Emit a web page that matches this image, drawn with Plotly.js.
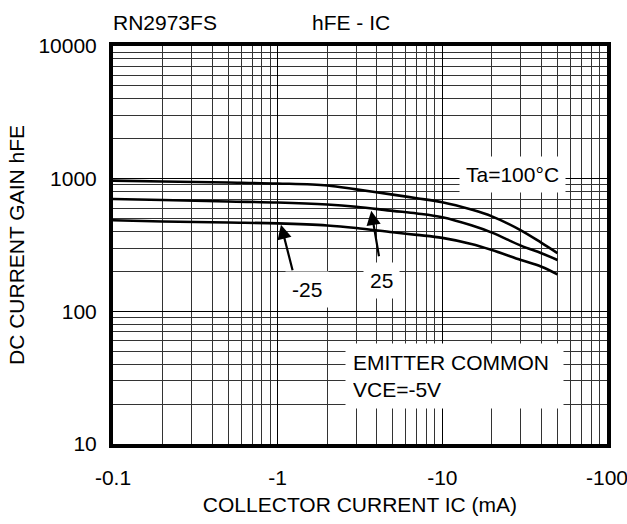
<!DOCTYPE html>
<html>
<head>
<meta charset="utf-8">
<script src="https://cdn.plot.ly/plotly-3.0.1.min.js"></script>
<style>html,body{margin:0;padding:0;background:#fff;}#chart{width:627px;height:524px;}</style>
</head>
<body>
<div id="chart"></div>
<script>
// Collector current (mA, magnitude) and DC current gain hFE per ambient temperature
const collectorCurrent = [0.1, 0.2, 0.5, 1, 2, 3, 5, 7, 10, 15, 20, 30, 40, 50];
const hfeTa100 = [966, 953, 936, 920, 889, 830, 758, 712, 665, 585, 520, 408, 328, 275];
const hfeTa25 = [703, 691, 673, 661, 638, 614, 572, 547, 512, 445, 392, 313, 274, 244];
const hfeTaM25 = [486, 476, 467, 460, 444, 425, 394, 377, 358, 322, 290, 244, 217, 190];

const xTickVals = [0.1, 1, 10, 100];
const xTickText = ['-0.1', '-1', '-10', '-100'];
const yTickVals = [10, 100, 1000, 10000];
const yTickText = ['10', '100', '1000', '10000'];

function minorVals(decades) {
  const out = [];
  decades.forEach(d => { for (let m = 2; m <= 9; m++) out.push(d * m); });
  return out;
}

const FONT = 'Arial, "Liberation Sans", sans-serif';
const FS = 21;
const lineStyle = {color: '#000', width: 2.6, shape: 'spline', smoothing: 1};

const traces = [
  {x: collectorCurrent, y: hfeTa100, name: 'Ta=100°C', mode: 'lines', line: lineStyle},
  {x: collectorCurrent, y: hfeTa25, name: '25', mode: 'lines', line: lineStyle},
  {x: collectorCurrent, y: hfeTaM25, name: '-25', mode: 'lines', line: lineStyle}
];

const layout = {
  width: 627, height: 524,
  margin: {l: 113, r: 20, t: 46, b: 80},
  paper_bgcolor: '#fff', plot_bgcolor: '#fff',
  showlegend: false,
  font: {family: FONT, size: FS, color: '#000'},
  xaxis: {
    type: 'log', range: [-1, 2],
    tickmode: 'array', tickvals: xTickVals, ticktext: xTickText,
    ticks: 'outside', ticklen: 12, tickcolor: 'rgba(0,0,0,0)',
    ticklabeloverflow: 'allow',
    showgrid: true, gridcolor: '#000', gridwidth: 1,
    minor: {tickmode: 'array', tickvals: minorVals([0.1, 1, 10]), showgrid: true, gridcolor: '#333', gridwidth: 1, ticks: ''},
    showline: true, linecolor: '#000', linewidth: 4, mirror: true,
    zeroline: false,
    tickfont: {family: FONT, size: FS, color: '#000'},
    title: {text: 'COLLECTOR CURRENT IC (mA)', font: {family: FONT, size: FS, color: '#000'}, standoff: 10}
  },
  yaxis: {
    type: 'log', range: [1, 4],
    tickmode: 'array', tickvals: yTickVals, ticktext: yTickText,
    ticks: 'outside', ticklen: 8, tickcolor: 'rgba(0,0,0,0)',
    ticklabeloverflow: 'allow',
    showgrid: true, gridcolor: '#000', gridwidth: 1,
    minor: {tickmode: 'array', tickvals: minorVals([10, 100, 1000]), showgrid: true, gridcolor: '#333', gridwidth: 1, ticks: ''},
    showline: true, linecolor: '#000', linewidth: 4, mirror: true,
    zeroline: false,
    tickfont: {family: FONT, size: FS, color: '#000'},
    title: {text: 'DC CURRENT GAIN hFE', font: {family: FONT, size: FS, color: '#000'}, standoff: 9}
  },
  annotations: [
    {xref: 'paper', yref: 'paper', x: 0.105, y: 1.06, xanchor: 'center', yanchor: 'middle', text: 'RN2973FS', showarrow: false, font: {family: FONT, size: FS}},
    {xref: 'paper', yref: 'paper', x: 0.482, y: 1.06, xanchor: 'center', yanchor: 'middle', text: 'hFE - IC', showarrow: false, font: {family: FONT, size: FS}},
    {xref: 'paper', yref: 'paper', x: 0.8097, y: 0.677, xanchor: 'center', yanchor: 'middle', text: 'Ta=100°C', showarrow: false, bgcolor: '#fff', borderpad: 6, font: {family: FONT, size: FS}},
    {xref: 'paper', yref: 'paper', x: 0.392, y: 0.387, xanchor: 'center', yanchor: 'middle', text: '-25', showarrow: false, bgcolor: '#fff', borderpad: 6, font: {family: FONT, size: FS}},
    {xref: 'paper', yref: 'paper', x: 0.5435, y: 0.411, xanchor: 'center', yanchor: 'middle', text: '25', showarrow: false, bgcolor: '#fff', borderpad: 6, font: {family: FONT, size: FS}},
    {xref: 'paper', yref: 'paper', x: 0.4696, y: 0.2538, xanchor: 'left', yanchor: 'top', align: 'left', text: 'EMITTER COMMON<br>VCE=-5V', showarrow: false, bgcolor: '#fff', borderpad: 7, width: 203, font: {family: FONT, size: FS}},
    {xref: 'x', yref: 'y', x: Math.log10(collectorCurrent[3]) + 0.02, y: Math.log10(hfeTaM25[3]) - 0.01, text: '', showarrow: true, arrowhead: 2, arrowsize: 1.3, arrowwidth: 2.2, arrowcolor: '#000', ax: 12, ay: 47, standoff: 0},
    {xref: 'x', yref: 'y', x: Math.log10(3.7), y: Math.log10(600) - 0.02, text: '', showarrow: true, arrowhead: 2, arrowsize: 1.3, arrowwidth: 2.2, arrowcolor: '#000', ax: 8, ay: 47, standoff: 0}
  ]
};

Plotly.newPlot('chart', traces, layout, {staticPlot: true, displayModeBar: false});
</script>
</body>
</html>
